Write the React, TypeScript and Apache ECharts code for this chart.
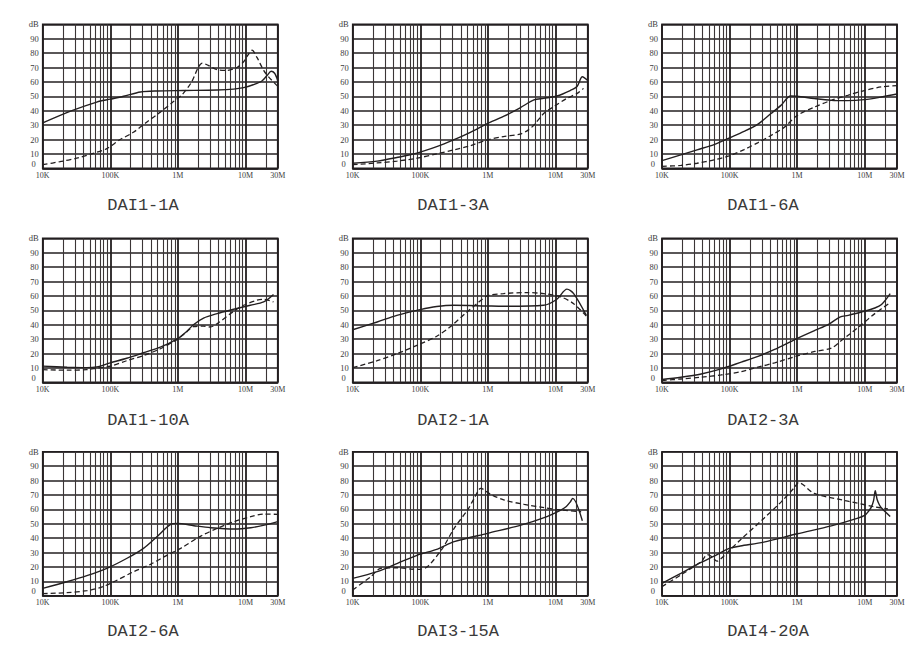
import React, { useEffect, useRef } from "react";
import * as echarts from "echarts";

type Pt = [number, number];

const panelTitles = ["DAI1-1A", "DAI1-3A", "DAI1-6A", "DAI1-10A", "DAI2-1A", "DAI2-3A", "DAI2-6A", "DAI3-15A", "DAI4-20A"];
const xTickValues = [1e4, 1e5, 1e6, 1e7, 3e7];
const xTickLabels = ["10K", "100K", "1M", "10M", "30M"];
const yTopLabel = "dB";
const minorGridFreqs = [
  2e4, 3e4, 4e4, 5e4, 6e4, 7e4, 8e4, 9e4,
  2e5, 3e5, 4e5, 5e5, 6e5, 7e5, 8e5, 9e5,
  2e6, 3e6, 4e6, 5e6, 6e6, 7e6, 8e6, 9e6,
  2e7,
];

const dai1_1A_solid: Pt[] = [[1e4, 31.5], [2.7e4, 40], [6.3e4, 46], [1e5, 48], [1.57e5, 50], [2.8e5, 53], [5e5, 53.7], [1.2e6, 54], [3.8e6, 54.4], [6.7e6, 55], [9.4e6, 56], [1.3e7, 58], [1.75e7, 60.6], [2.1e7, 64.6], [2.4e7, 67.4], [2.7e7, 66], [3e7, 61]];
const dai1_1A_dashed: Pt[] = [[1e4, 2.5], [1.8e4, 4.6], [3.2e4, 7], [5.6e4, 10.4], [8.9e4, 13.7], [1.4e5, 20], [2.2e5, 25], [3.45e5, 32], [5.5e5, 39], [8.7e5, 46.5], [1.15e6, 51], [1.6e6, 60], [2e6, 70], [2.3e6, 73], [2.8e6, 71.5], [3.8e6, 68.5], [5.3e6, 68], [7.5e6, 70], [9.4e6, 74], [1.1e7, 79], [1.25e7, 82], [1.48e7, 77], [1.86e7, 68], [2.2e7, 63.5], [3e7, 57]];

const dai1_3A_solid: Pt[] = [[1e4, 3.5], [2.3e4, 5], [4.5e4, 7.5], [8.9e4, 10.5], [1.75e5, 15], [3.1e5, 19.7], [5.5e5, 25], [9.8e5, 31], [1.7e6, 36], [3e6, 42], [4.8e6, 47.5], [6.7e6, 48.6], [1.05e7, 50.2], [1.65e7, 54], [2.1e7, 57], [2.5e7, 63.6], [3e7, 61]];
const dai1_3A_dashed: Pt[] = [[1e4, 2.5], [2.3e4, 3.7], [4.5e4, 5], [8.9e4, 7], [1.75e5, 10], [3.1e5, 12.7], [5.5e5, 15.7], [9.8e5, 19.7], [1.7e6, 22], [3e6, 23.8], [3.8e6, 26], [4.8e6, 30], [6.7e6, 38], [9.4e6, 42.8], [1.48e7, 48.6], [2.1e7, 52], [2.6e7, 55.5]];

const dai1_6A_solid: Pt[] = [[1e4, 5.3], [1.9e4, 9.3], [3.3e4, 12.8], [5.9e4, 16.5], [9.8e4, 21], [1.64e5, 25.6], [2.6e5, 30.5], [4.1e5, 38], [5.75e5, 43.7], [8e5, 50.2], [1e6, 50], [1.8e6, 48.4], [3.2e6, 47.2], [5.6e6, 47], [9.8e6, 47.7], [1.75e7, 49.5], [3e7, 51.6]];
const dai1_6A_dashed: Pt[] = [[1e4, 1.4], [1.9e4, 2], [3.3e4, 3.5], [5.9e4, 5.8], [9.8e4, 8.6], [1.64e5, 13], [2.6e5, 17.7], [4.1e5, 22.8], [6.5e5, 28.6], [1e6, 36.7], [1.8e6, 42.5], [3.2e6, 47.2], [5.6e6, 50.7], [9.8e6, 54], [1.75e7, 56.5], [3e7, 57.4]];

const dai1_10A_solid: Pt[] = [[1e4, 11.2], [2.3e4, 10.5], [4.5e4, 10.2], [6.3e4, 10.7], [1e5, 13.5], [1.75e5, 16.7], [3.1e5, 20.5], [5.5e5, 24.4], [9.8e5, 30.2], [1.35e6, 35.3], [1.7e6, 40], [2.4e6, 44.6], [3.8e6, 47.7], [6.7e6, 50.7], [1.18e7, 53.5], [1.86e7, 55.8], [2.6e7, 61]];
const dai1_10A_dashed: Pt[] = [[1e4, 8.8], [2.3e4, 8.4], [4.5e4, 8.8], [6.3e4, 9.8], [1e5, 11.2], [1.75e5, 15], [3.1e5, 18.6], [5.5e5, 23.3], [9.8e5, 29.8], [1.35e6, 35], [1.7e6, 38.6], [2.4e6, 39], [3e6, 38.4], [3.8e6, 40.7], [6.7e6, 49.3], [9.4e6, 53.5], [1.48e7, 57], [1.86e7, 57.7], [2.6e7, 55.8]];

const dai2_1A_solid: Pt[] = [[1e4, 36.5], [2.3e4, 41.9], [4.5e4, 46.5], [1e5, 50.5], [1.75e5, 52.6], [3.1e5, 53.5], [9.8e5, 53], [1.7e6, 52.8], [6.7e6, 53.5], [1.05e7, 57.7], [1.48e7, 64.7], [1.86e7, 61.6], [2.86e7, 46.5]];
const dai2_1A_dashed: Pt[] = [[1e4, 10.2], [2.3e4, 15], [4.5e4, 19.8], [8.9e4, 25.6], [1.75e5, 32], [2.75e5, 38.4], [4.9e5, 48.8], [6.9e5, 54.6], [9.8e5, 60], [1.7e6, 61.6], [3.8e6, 62.3], [6.7e6, 61.6], [1.2e7, 59.3], [1.86e7, 54.6], [2.86e7, 46]];

const dai2_3A_solid: Pt[] = [[1e4, 1.9], [1.9e4, 3.5], [3.8e4, 5.8], [7.5e4, 9.3], [1.49e5, 14], [2.63e5, 18], [4.64e5, 22.8], [9.7e5, 30.2], [1.82e6, 36], [2.87e6, 40], [4.28e6, 45.3], [5.69e6, 46.5], [8.97e6, 48.8], [1.41e7, 51.6], [1.77e7, 54], [2.38e7, 61.6]];
const dai2_3A_dashed: Pt[] = [[1e4, 1.2], [1.9e4, 2.3], [3.8e4, 3.5], [7.5e4, 5.1], [1.49e5, 7.4], [2.63e5, 10.5], [4.64e5, 13.5], [9.7e5, 18.1], [1.82e6, 21.4], [3.2e6, 23.7], [4.5e6, 29], [5.69e6, 32.6], [8.97e6, 40], [1.41e7, 47.7], [2.38e7, 55.3]];

const dai2_6A_solid: Pt[] = [[1e4, 5.1], [2.27e4, 9.7], [4.5e4, 13.9], [8.9e4, 19], [1.77e5, 26], [3.1e5, 32.9], [4.9e5, 41], [7.8e5, 49.5], [9.8e5, 50.2], [1.73e6, 48.6], [3.06e6, 47.2], [6.8e6, 46.3], [1.2e7, 47.2], [1.9e7, 49], [3e7, 51.4]];
const dai2_6A_dashed: Pt[] = [[1e4, 1.4], [2.27e4, 2.1], [4.5e4, 3.5], [7.1e4, 5.6], [1.19e5, 10.2], [2.22e5, 16.7], [3.94e5, 21.8], [6.95e5, 28.2], [1.1e6, 32.9], [2.18e6, 41.4], [3.85e6, 46.8], [6.8e6, 51.4], [1.2e7, 54.9], [1.9e7, 56.7], [3e7, 56.5]];

const dai3_15A_solid: Pt[] = [[1e4, 12], [2.3e4, 16.7], [4.6e4, 22.5], [9.1e4, 28.2], [1.8e5, 32.4], [3.17e5, 37.5], [9.9e5, 43.3], [3.08e6, 49], [6.8e6, 54.2], [1.2e7, 59.5], [1.45e7, 62], [1.65e7, 65], [1.8e7, 67.6], [2.5e7, 52]];
const dai3_15A_dashed: Pt[] = [[1e4, 4], [1.85e4, 13.2], [2.6e4, 19], [4.6e4, 19.4], [7.2e4, 18.5], [1e5, 18.3], [1.3e5, 20.5], [2.13e5, 32.9], [3.17e5, 46.8], [5e5, 59.5], [6.28e5, 67.6], [7.87e5, 74.5], [1.1e6, 70.4], [1.75e6, 66.4], [3.45e6, 63.4], [6.8e6, 61.1], [1.2e7, 59.5], [2.4e7, 58.3]];

const dai4_20A_solid: Pt[] = [[1e4, 8.6], [1.9e4, 15.5], [3.78e4, 23.1], [5.9e4, 27.5], [9.9e4, 32.9], [1.44e5, 34.5], [3.2e5, 37.2], [1e6, 43], [3.2e6, 48.5], [7.7e6, 53.7], [1.01e7, 56], [1.13e7, 58.5], [1.25e7, 61.5], [1.35e7, 66], [1.43e7, 73], [1.52e7, 67], [1.65e7, 63], [1.8e7, 60.5], [2.38e7, 55]];
const dai4_20A_dashed: Pt[] = [[1e4, 6.3], [1.9e4, 14.4], [3.78e4, 23.6], [4.7e4, 28.5], [5.5e4, 27], [6.5e4, 24], [8.4e4, 28], [1e5, 31.5], [1.44e5, 38.7], [3.26e5, 54], [5.76e5, 65], [9.07e5, 75], [1.05e6, 78.5], [1.8e6, 71], [5.6e6, 65.7], [1.37e7, 61.8], [2.2e7, 60.2]];

const panelSolid: Pt[][] = [dai1_1A_solid, dai1_3A_solid, dai1_6A_solid, dai1_10A_solid, dai2_1A_solid, dai2_3A_solid, dai2_6A_solid, dai3_15A_solid, dai4_20A_solid];
const panelDashed: Pt[][] = [dai1_1A_dashed, dai1_3A_dashed, dai1_6A_dashed, dai1_10A_dashed, dai2_1A_dashed, dai2_3A_dashed, dai2_6A_dashed, dai3_15A_dashed, dai4_20A_dashed];

// layout (pixels)
const colLeft = [42.7, 352.7, 662];
const rowTop = [24.3, 238.3, 451.7];
const plotW = 235;
const plotH = 144;
const titleLeft = [107.3, 417.3, 727.3];
const titleTop = [196.5, 411.5, 623];

const INK = "#231f20";
const LABEL = "#3c3c3c";
const LABEL_FONT = "Liberation Serif";

function xLabel(v: number): string {
  const lv = Math.log10(v);
  let best = 0;
  let bd = Infinity;
  xTickValues.forEach((t, i) => {
    const d = Math.abs(Math.log10(t) - lv);
    if (d < bd) {
      bd = d;
      best = i;
    }
  });
  return bd < 0.05 ? xTickLabels[best] : "";
}

function yLabel(v: number): string {
  if (v === 100) return yTopLabel;
  if (v === 0) return "{z|0}";
  return String(v);
}

function buildOption() {
  const grid: any[] = [];
  const xAxis: any[] = [];
  const yAxis: any[] = [];
  const series: any[] = [];
  const title: any[] = [];
  for (let i = 0; i < 9; i++) {
    const r = Math.floor(i / 3);
    const c = i % 3;
    grid.push({
      left: colLeft[c],
      top: rowTop[r],
      width: plotW,
      height: plotH,
      show: true,
      borderColor: INK,
      borderWidth: 1.6,
      backgroundColor: "transparent",
      containLabel: false,
    });
    xAxis.push({
      type: "log",
      logBase: 10,
      gridIndex: i,
      min: 1e4,
      max: 3e7,
      axisLine: { show: true, lineStyle: { color: INK, width: 1.6 } },
      axisTick: { show: false },
      splitLine: { show: true, lineStyle: { color: INK, width: 1.8 } },
      minorTick: { show: false },
      axisLabel: {
        show: true,
        interval: 0,
        showMinLabel: true,
        showMaxLabel: true,
        formatter: (v: number) => xLabel(v),
        fontFamily: LABEL_FONT,
        fontSize: 8,
        color: LABEL,
        margin: 3,
      },
    });
    yAxis.push({
      type: "value",
      gridIndex: i,
      min: 0,
      max: 100,
      interval: 10,
      axisLine: { show: false },
      axisTick: { show: false },
      splitLine: { show: true, lineStyle: { color: INK, width: 1.5 } },
      axisLabel: {
        show: true,
        formatter: (v: number) => yLabel(v),
        fontFamily: LABEL_FONT,
        fontSize: 8.5,
        color: LABEL,
        margin: 4,
        rich: {
          z: {
            fontFamily: LABEL_FONT,
            fontSize: 8.5,
            color: LABEL,
            padding: [0, 3, 9, 0],
          },
        },
      },
    });
    // helper series holding the minor (2..9) log grid lines
    series.push({
      type: "line",
      xAxisIndex: i,
      yAxisIndex: i,
      data: [[1e4, 0]],
      symbol: "none",
      lineStyle: { opacity: 0 },
      silent: true,
      z: 1,
      markLine: {
        silent: true,
        symbol: ["none", "none"],
        label: { show: false },
        emphasis: { disabled: true },
        lineStyle: { color: "#3b3536", width: 1.1, type: "solid" },
        data: minorGridFreqs.map((f) => ({ xAxis: f })),
      },
    });
    series.push({
      type: "line",
      xAxisIndex: i,
      yAxisIndex: i,
      data: panelSolid[i],
      symbol: "none",
      smooth: 0.3,
      z: 5,
      lineStyle: { color: INK, width: 1.4 },
    });
    series.push({
      type: "line",
      xAxisIndex: i,
      yAxisIndex: i,
      data: panelDashed[i],
      symbol: "none",
      smooth: 0.3,
      z: 5,
      lineStyle: { color: INK, width: 1.3, type: [5, 3] },
    });
    title.push({
      text: panelTitles[i],
      left: titleLeft[c],
      top: titleTop[r],
      padding: 0,
      textStyle: {
        fontFamily: "Liberation Mono",
        fontSize: 17,
        fontWeight: "normal",
        color: "#3a3a3a",
      },
    });
  }
  return {
    animation: false,
    backgroundColor: "#ffffff",
    title,
    grid,
    xAxis,
    yAxis,
    series,
  };
}

export default function App() {
  const ref = useRef<HTMLDivElement>(null);
  useEffect(() => {
    if (!ref.current) return;
    const chart = echarts.init(ref.current, undefined, { renderer: "svg" });
    chart.setOption(buildOption() as any);
    return () => {
      chart.dispose();
    };
  }, []);
  return (
    <div
      ref={ref}
      style={{ position: "fixed", left: 0, top: 0, width: 924, height: 668, background: "#fff" }}
    />
  );
}
